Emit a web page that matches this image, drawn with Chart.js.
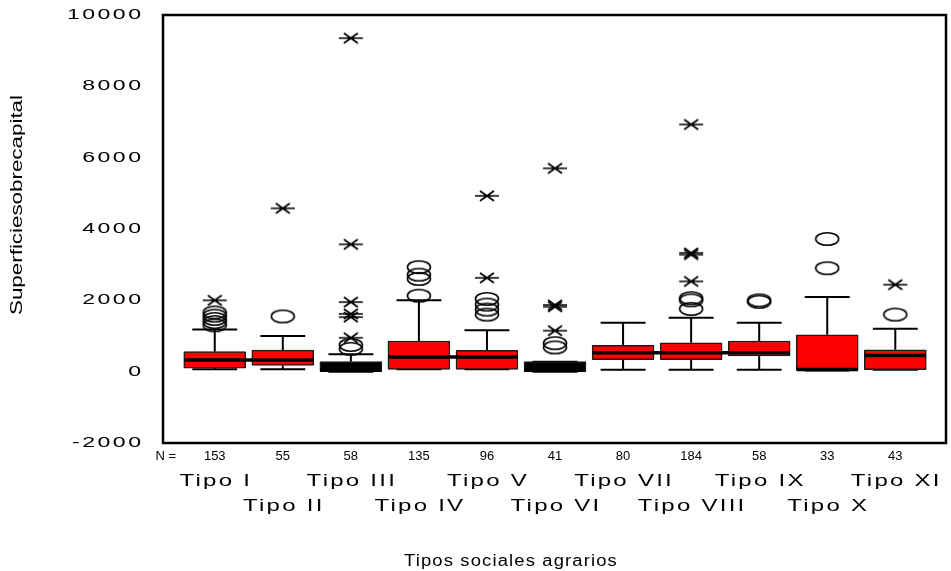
<!DOCTYPE html>
<html>
<head>
<meta charset="utf-8">
<script src="https://cdn.jsdelivr.net/npm/chart.js@4.4.1/dist/chart.umd.min.js"></script>
<style>
body { margin: 0; background: #fff; }
canvas { display: block; }
</style>
</head>
<body>
<canvas id="boxChart" width="951" height="571"></canvas>
<script>
// data
const categories = ["Tipo I", "Tipo II", "Tipo III", "Tipo IV", "Tipo V", "Tipo VI",
    "Tipo VII", "Tipo VIII", "Tipo IX", "Tipo X", "Tipo XI"];
const counts = [153, 55, 58, 135, 96, 41, 80, 184, 58, 33, 43];
const q1 = [100, 175, 0, 65, 65, 0, 335, 335, 440, 35, 55];
const median = [325, 325, 40, 410, 410, 40, 530, 530, 530, 60, 455];
const q3 = [560, 605, 280, 860, 600, 280, 740, 810, 860, 1035, 615];
const whiskerLow = [65, 65, 0, 65, 65, 0, 55, 55, 55, 35, 55];
const whiskerHigh = [1180, 1000, 490, 2000, 1160, 280, 1370, 1510, 1370, 2090, 1200];
const circleOutliers = [
    [1300, 1390, 1480, 1570, 1660],
    [1550],
    [640, 750],
    [2130, 2600, 2720, 2930],
    [1600, 1740, 1880, 2040],
    [680, 800],
    [],
    [1760, 2000, 2060],
    [1960, 2000],
    [2900, 3720],
    [1600]
];
const extremeOutliers = [
    [2000],
    [4580],
    [950, 1530, 1620, 1950, 3570, 9350],
    [],
    [2630, 4930],
    [1150, 1820, 1870, 5700],
    [],
    [2530, 3280, 3330, 6930],
    [],
    [],
    [2440]
];
const yTicks = [-2000, 0, 2000, 4000, 6000, 8000, 10000];
const yTitle = "Superficiesobrecapital";
const xTitle = "Tipos sociales agrarios";

// marker images (SPSS style O and *)
function makeCircle() {
    const c = document.createElement("canvas");
    c.width = 26; c.height = 16;
    const g = c.getContext("2d");
    g.strokeStyle = "#000";
    g.lineWidth = 1.6;
    g.beginPath();
    g.ellipse(13, 8, 11.5, 6.3, 0, 0, Math.PI * 2);
    g.stroke();
    return c;
}
function makeCross() {
    const c = document.createElement("canvas");
    c.width = 26; c.height = 14;
    const g = c.getContext("2d");
    g.strokeStyle = "#000";
    g.lineWidth = 1.7;
    g.beginPath();
    g.moveTo(6, 2); g.lineTo(20, 12);
    g.moveTo(20, 2); g.lineTo(6, 12);
    g.moveTo(1, 7); g.lineTo(25, 7);
    g.stroke();
    return c;
}

const boxData = categories.map((c, i) => ({ x: i, y: [q1[i], q3[i]] }));
const boxFill = categories.map((c, i) => (q3[i] - q1[i] < 300 ? "#000000" : "#ff0000"));

const capHalf = 0.33;
const whiskerData = [];
categories.forEach((c, i) => {
    whiskerData.push({ x: i, y: q3[i] }, { x: i, y: whiskerHigh[i] }, { x: i, y: null });
    whiskerData.push({ x: i - capHalf, y: whiskerHigh[i] }, { x: i + capHalf, y: whiskerHigh[i] }, { x: i, y: null });
    whiskerData.push({ x: i, y: q1[i] }, { x: i, y: whiskerLow[i] }, { x: i, y: null });
    whiskerData.push({ x: i - capHalf, y: whiskerLow[i] }, { x: i + capHalf, y: whiskerLow[i] }, { x: i, y: null });
});

// median bars; SPSS joins neighbouring medians that sit at the same level
const medianData = [];
categories.forEach((c, i) => {
    const right = median[i + 1] === median[i] ? i + 0.55 : i + 0.45;
    medianData.push({ x: i - 0.45, y: median[i] }, { x: right, y: median[i] }, { x: i, y: null });
});

const circleData = [];
circleOutliers.forEach((vals, i) => vals.forEach(v => circleData.push({ x: i, y: v })));
const crossData = [];
extremeOutliers.forEach((vals, i) => vals.forEach(v => crossData.push({ x: i, y: v })));

function stretchText(ctx, text, x, y, font, sx, spacing, align) {
    ctx.save();
    ctx.font = font;
    ctx.letterSpacing = spacing + "px";
    ctx.fillStyle = "#000";
    ctx.textBaseline = "middle";
    ctx.textAlign = align;
    ctx.translate(x, y);
    ctx.scale(sx, 1);
    ctx.fillText(text, 0, 0);
    ctx.restore();
}

const spssText = {
    id: "spssText",
    afterDraw(chart) {
        const ctx = chart.ctx;
        const area = chart.chartArea;
        const xs = chart.scales.x;
        const ys = chart.scales.y;

        // frame
        ctx.save();
        ctx.strokeStyle = "#000";
        ctx.lineWidth = 2.5;
        ctx.strokeRect(area.left + 1, area.top, area.right - area.left - 1, area.bottom - area.top);
        ctx.restore();

        // y tick labels
        yTicks.forEach(t => {
            stretchText(ctx, String(t), 143.5, ys.getPixelForValue(t), "14px 'Liberation Sans'", 1.65, 1.5, "right");
        });

        // N row
        stretchText(ctx, "N =", 176, 456, "13px 'Liberation Sans'", 1.0, 0, "right");
        counts.forEach((n, i) => {
            stretchText(ctx, String(n), xs.getPixelForValue(i), 456, "13px 'Liberation Sans'", 1.0, 0, "center");
        });

        // category labels, staggered
        categories.forEach((c, i) => {
            const y = i % 2 === 0 ? 482 : 507;
            stretchText(ctx, c, xs.getPixelForValue(i) + 1, y, "16px 'Liberation Sans'", 1.5, 1.5, "center");
        });

        // x title
        stretchText(ctx, xTitle, 511, 562, "16px 'Liberation Sans'", 1.15, 1, "center");

        // y title, rotated and squeezed
        ctx.save();
        ctx.font = "17px 'Liberation Sans'";
        const w = ctx.measureText(yTitle).width;
        ctx.translate(17, 205);
        ctx.rotate(-Math.PI / 2);
        ctx.scale(220 / w, 1);
        ctx.fillStyle = "#000";
        ctx.textAlign = "center";
        ctx.textBaseline = "middle";
        ctx.fillText(yTitle, 0, 0);
        ctx.restore();
    }
};

new Chart(document.getElementById("boxChart"), {
    type: "bar",
    data: {
        datasets: [
            {
                type: "line",
                data: whiskerData,
                borderColor: "#000",
                borderWidth: 2,
                pointRadius: 0,
                spanGaps: false,
                order: 5
            },
            {
                type: "bar",
                data: boxData,
                backgroundColor: boxFill,
                borderColor: "#1a1a1a",
                borderWidth: 1.5,
                borderSkipped: false,
                borderRadius: 1,
                barThickness: 62,
                order: 4
            },
            {
                type: "line",
                data: medianData,
                borderColor: "#000",
                borderWidth: 3.5,
                pointRadius: 0,
                spanGaps: false,
                order: 2
            },
            {
                type: "scatter",
                data: circleData,
                pointStyle: makeCircle(),
                order: 1
            },
            {
                type: "scatter",
                data: crossData,
                pointStyle: makeCross(),
                order: 0
            }
        ]
    },
    options: {
        responsive: false,
        animation: false,
        devicePixelRatio: 1,
        layout: { padding: { top: 15, right: 2, left: 0, bottom: 0 } },
        plugins: { legend: { display: false }, tooltip: { enabled: false } },
        scales: {
            x: {
                type: "linear",
                offset: false,
                min: -0.775,
                max: 10.745,
                grid: { display: false, offset: false },
                border: { display: false },
                ticks: { display: false },
                afterFit: s => { s.height = 128; }
            },
            y: {
                min: yTicks[0],
                max: yTicks[yTicks.length - 1],
                ticks: { display: false, stepSize: 2000 },
                grid: { display: false },
                border: { display: false },
                afterFit: s => { s.width = 162; }
            }
        }
    },
    plugins: [spssText]
});
</script>
</body>
</html>
